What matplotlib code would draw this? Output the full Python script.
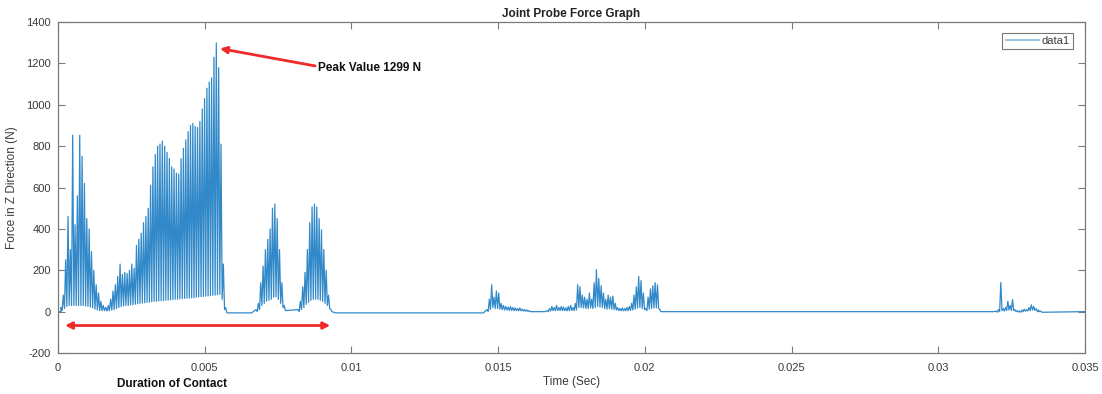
import numpy as np
import matplotlib
matplotlib.use("Agg")
import matplotlib.pyplot as plt
from matplotlib.transforms import blended_transform_factory

plt.rcParams['font.family'] = ['Liberation Sans', 'DejaVu Sans']
plt.rcParams['axes.unicode_minus'] = False

# ---- measured probe force (N) ----
# Contact bursts: each burst is a train of impacts spaced by spike_dt seconds,
# listed as the peak force of each impact and the force between impacts.
spike_dt = 8.0e-5

burst_a_start = 0.000102
burst_a_peaks = [20, 80, 250, 460, 300, 853, 420, 560, 853, 750,
                 620, 450, 400, 290, 200, 130, 90, 50, 30, 20]
burst_a_troughs = [5, 15, 25, 30, 30, 30, 30, 30, 30, 30,
                   28, 25, 22, 18, 12, 8, 5, 5, 5, 5]

burst_b_start = 0.001636
burst_b_peaks = [20, 30, 60, 100, 130, 170, 230, 180, 190, 185,
                 200, 230, 210, 320, 350, 380, 430, 460, 500, 610,
                 700, 760, 800, 810, 825, 800, 770, 740, 700, 690,
                 670, 665, 740, 790, 830, 870, 900, 910, 895, 890,
                 920, 980, 1030, 1080, 1110, 1130, 1230, 1299, 1180, 810,
                 230, 20]
burst_b_troughs = [5, 5, 8, 10, 15, 20, 25, 28, 30, 30,
                   32, 34, 36, 38, 40, 42, 43, 45, 46, 48,
                   50, 50, 52, 53, 54, 55, 56, 57, 58, 60,
                   60, 62, 63, 64, 65, 66, 67, 68, 70, 71,
                   72, 74, 75, 76, 78, 79, 80, 82, 84, 60,
                   10, -5]

burst_c_start = 0.00675
burst_c_peaks = [10, 40, 140, 220, 300, 350, 400, 500, 520, 450, 300, 140, 30]
burst_c_troughs = [0, 10, 30, 40, 50, 55, 60, 70, 72, 60, 40, 20, 5]

burst_d_start = 0.00818
burst_d_peaks = [10, 50, 120, 190, 300, 430, 506, 520, 506, 450,
                 395, 300, 200, 80, 10]
burst_d_troughs = [0, 10, 20, 35, 45, 55, 60, 60, 60, 55,
                   50, 40, 30, 15, 0]

burst_e_start = 0.01462
burst_e_peaks = [10, 60, 130, 70, 100, 90, 40, 30, 25, 22,
                 25, 20, 18, 15, 18, 12, 10, 8, 5]
burst_e_troughs = [0, 10, 20, 15, 15, 12, 10, 8, 8, 6,
                   6, 5, 5, 4, 4, 3, 2, 1, 0]

burst_f_start = 0.01667
burst_f_peaks = [5, 15, 25, 20, 30, 20, 25, 22, 18, 25,
                 30, 20, 40, 130, 120, 80, 70, 60, 90, 60,
                 140, 203, 160, 125, 90, 60, 80, 70, 75, 40,
                 20, 15, 18, 15, 20, 25, 40, 80, 120, 170,
                 150, 90, 15, 70, 110, 125, 140, 130, 10]
burst_f_troughs = [0, 3, 5, 5, 6, 5, 5, 5, 4, 5,
                   6, 5, 8, 20, 20, 18, 15, 15, 18, 15,
                   20, 25, 22, 20, 15, 12, 15, 12, 10, 8,
                   5, 4, 4, 4, 5, 6, 8, 12, 18, 20,
                   15, 10, 5, 12, 15, 18, 18, 15, 0]

burst_g_start = 0.03197
burst_g_peaks = [3, 10, 141, 15, 20, 50, 30, 58, 10, 5,
                 3, 8, 12, 10, 20, 33, 25, 15, 8, 3]
burst_g_troughs = [-3, 0, 5, 3, 5, 8, 6, 5, 0, -2,
                   -3, 0, 2, 3, 5, 8, 6, 3, 0, -3]

# Quiet stretches between bursts: (start time, end time, force)
rest_spans = [(0.0, 0.0001, 0.0),
              (0.0058, 0.0066, -6.0),
              (0.00945, 0.0145, -6.0),
              (0.0161, 0.0166, 0.0),
              (0.0207, 0.0319, 0.0),
              (0.0334, 0.035, 0.0)]

bursts = [(burst_a_start, burst_a_peaks, burst_a_troughs),
          (burst_b_start, burst_b_peaks, burst_b_troughs),
          (burst_c_start, burst_c_peaks, burst_c_troughs),
          (burst_d_start, burst_d_peaks, burst_d_troughs),
          (burst_e_start, burst_e_peaks, burst_e_troughs),
          (burst_f_start, burst_f_peaks, burst_f_troughs),
          (burst_g_start, burst_g_peaks, burst_g_troughs)]

# Assemble the time series: impact peaks, inter-impact forces and rest spans
pts = []
for start, peaks, troughs in bursts:
    for i, (p, q) in enumerate(zip(peaks, troughs)):
        t = start + i * spike_dt
        pts.append((t, p))
        pts.append((t + spike_dt * 0.5, q))
for t0, t1, v in rest_spans:
    pts.append((t0, v))
    pts.append((t1, v))
pts.sort(key=lambda p: p[0])
time = np.array([p[0] for p in pts])
force = np.array([p[1] for p in pts])

# ---- figure ----
fig = plt.figure(figsize=(11.02, 3.94), dpi=100)
ax = fig.add_axes([0.0526, 0.104, 0.932, 0.840])

line_color = '#3189c9'
ax.plot(time, force, color=line_color, lw=0.9, label='data1')

ax.set_xlim(0, 0.035)
ax.set_ylim(-200, 1400)
ax.set_xticks([0, 0.005, 0.01, 0.015, 0.02, 0.025, 0.03, 0.035])
ax.set_xticklabels(['0', '0.005', '0.01', '0.015', '0.02', '0.025', '0.03', '0.035'])
ax.set_yticks(range(-200, 1401, 200))

axis_gray = '#7a7a7a'
text_gray = '#3a3a3a'
for s in ax.spines.values():
    s.set_color(axis_gray)
    s.set_linewidth(0.9)
ax.tick_params(direction='in', length=5, width=0.8, color=axis_gray,
               top=True, right=True, labelsize=8, labelcolor=text_gray)
ax.tick_params(axis='x', pad=7)
ax.tick_params(axis='y', pad=5)

ax.set_title('Joint Probe Force Graph', fontsize=8.5, fontweight='bold',
             color='#222222', pad=4)
ax.set_xlabel('Time (Sec)', fontsize=8.5, color=text_gray, labelpad=2)
ax.set_ylabel('Force in Z Direction (N)', fontsize=8.5, color=text_gray, labelpad=6)

leg = ax.legend(loc='upper right', fontsize=8, handlelength=3.0,
                handletextpad=0.25, frameon=True, fancybox=False,
                borderpad=0.3, borderaxespad=0.0,
                bbox_to_anchor=(0.9885, 0.968))
leg.get_frame().set_edgecolor('#555555')
leg.get_frame().set_linewidth(0.8)
for lh in leg.get_lines():
    lh.set_color('#9cc8e6')
    lh.set_linewidth(1.5)
for txt in leg.get_texts():
    txt.set_color(text_gray)

# Peak annotation
red = '#ee2a2a'
ax.annotate('', xy=(0.00552, 1272), xytext=(0.00876, 1188),
            arrowprops=dict(arrowstyle='-|>', color=red, lw=2,
                            mutation_scale=10, shrinkA=0, shrinkB=0))
ax.text(0.00885, 1176, 'Peak Value 1299 N', fontsize=8.5, fontweight='bold',
        color='#111111', ha='left', va='center')

# Contact duration annotation
ax.annotate('', xy=(0.00024, -67), xytext=(0.00928, -67),
            arrowprops=dict(arrowstyle='<|-|>', color=red, lw=2,
                            mutation_scale=10, shrinkA=0, shrinkB=0))
trans = blended_transform_factory(ax.transData, ax.transAxes)
ax.text(0.0039, -0.093, 'Duration of Contact', transform=trans, fontsize=8.5,
        fontweight='bold', color='#111111', ha='center', va='center')

fig.savefig('out.png', dpi=100)
